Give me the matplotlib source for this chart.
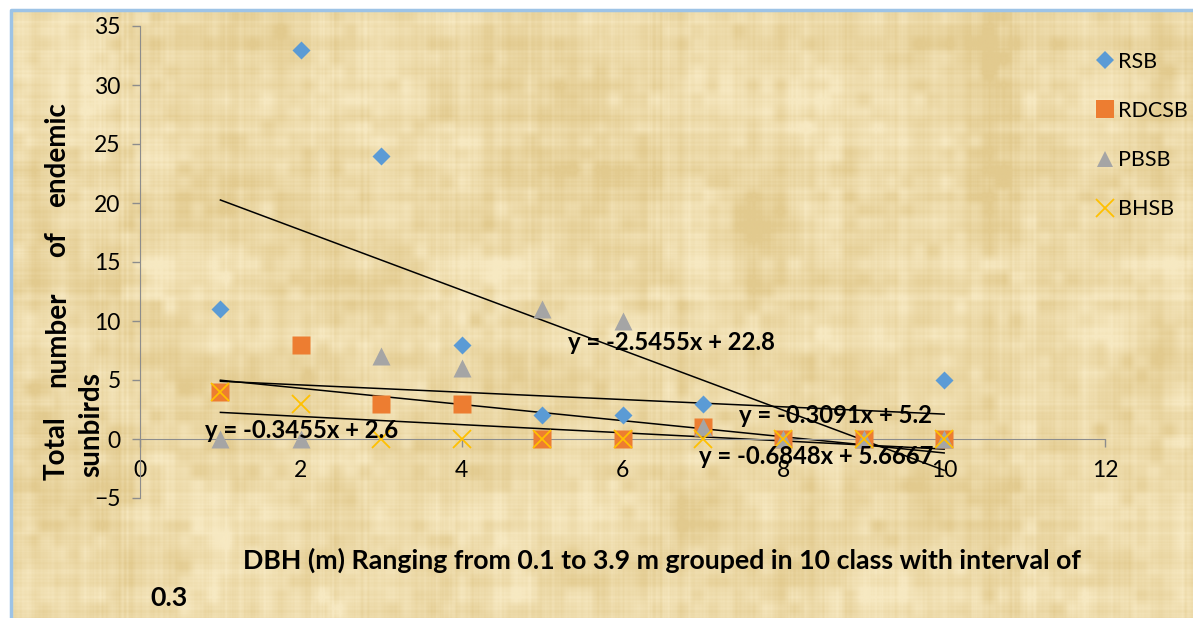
import numpy as np
import matplotlib
matplotlib.use('Agg')
import matplotlib.pyplot as plt
from matplotlib.lines import Line2D

plt.rcParams['font.family'] = ['Lato', 'DejaVu Sans']

# DBH classes and sunbird counts per species
dbh_class = [1, 2, 3, 4, 5, 6, 7, 8, 9, 10]
rsb = [11, 33, 24, 8, 2, 2, 3, 0, 0, 5]
rdcsb = [4, 8, 3, 3, 0, 0, 1, 0, 0, 0]
pbsb = [0, 0, 7, 6, 11, 10, 1, 0, 0, 0]
bhsb = [4, 3, 0, 0, 0, 0, 0, 0, 0, 0]

species = ['RSB', 'RDCSB', 'PBSB', 'BHSB']
colors = ['#5B9BD5', '#ED7D31', '#A5A5A5', '#FFC000']
markers = ['D', 's', '^', 'x']
msizes = [9.5, 13.5, 12.5, 13.5]

# where each trendline equation sits (data coords), same order as species
eq_pos = [(5.32, 8.2), (6.95, -1.5), (7.45, 2.0), (0.81, 0.75)]

W, H = 1193, 618
fig = plt.figure(figsize=(W / 100, H / 100), dpi=100)

# papyrus-like background: crossing fibres plus small patches
rng = np.random.default_rng(11)
def smooth1d(a, k):
    return np.convolve(a, np.ones(k) / k, mode='same')
col = smooth1d(rng.normal(size=W), 2)
row = smooth1d(rng.normal(size=H), 2)
col2 = smooth1d(rng.normal(size=W), 9)
row2 = smooth1d(rng.normal(size=H), 9)
blk = rng.normal(size=(H // 14 + 2, W // 14 + 2))
blot = np.kron(blk, np.ones((14, 14)))[:H, :W]
blot = np.apply_along_axis(smooth1d, 0, blot, 9)
blot = np.apply_along_axis(smooth1d, 1, blot, 9)
big = rng.normal(size=(H // 60 + 2, W // 60 + 2))
big = np.kron(big, np.ones((60, 60)))[:H, :W]
big = np.apply_along_axis(smooth1d, 0, big, 41)
big = np.apply_along_axis(smooth1d, 1, big, 41)
shade = (0.5 * col[None, :] + 0.5 * row[:, None] + 1.2 * col2[None, :] + 1.2 * row2[:, None]
         + 0.8 * blot + 1.0 * big)
shade = (shade - shade.mean()) / shade.std()
t = np.clip(0.5 + 0.2 * shade, 0, 1)[..., None]
dark = np.array([226, 202, 142]) / 255
light = np.array([247, 233, 194]) / 255
tex = dark + (light - dark) * t

bg = fig.add_axes([0, 0, 1, 1], zorder=0)
bg.set_xlim(0, W)
bg.set_ylim(H, 0)
bg.axis('off')
bg.imshow(tex, extent=(11, W, H, 10), aspect='auto', interpolation='bilinear')
bg.plot([11, 11, W], [H, 10, 10], color='#9DC3E6', lw=2.5, solid_capstyle='butt')

ax = fig.add_axes([140 / W, 1 - 498 / H, (1105 - 140) / W, (498 - 26) / H], zorder=1)
ax.set_facecolor('none')

x = np.array(dbh_class)
all_series = [rsb, rdcsb, pbsb, bhsb]
for name, ys, c, m, ms in zip(species, all_series, colors, markers, msizes):
    if m == 'x':
        ax.plot(x, ys, linestyle='none', marker=m, ms=ms, color=c, mew=1.3, label=name, zorder=3)
    else:
        ax.plot(x, ys, linestyle='none', marker=m, ms=ms, color=c, mec='none', label=name, zorder=3)

# linear trendlines with equations
def fmt(v):
    return f'{v:.4f}'.rstrip('0').rstrip('.')

for ys, (ex, ey) in zip(all_series, eq_pos):
    ys = np.array(ys, dtype=float)
    slope, icpt = np.polyfit(x, ys, 1)
    ax.plot([x[0], x[-1]], [slope * x[0] + icpt, slope * x[-1] + icpt],
            color='black', lw=1.1, zorder=2)
    ax.text(ex, ey, f'y = {fmt(slope)}x + {fmt(icpt)}', fontsize=17.2,
            fontweight='bold', ha='left', va='center', zorder=4)

ax.set_xlim(0, 12)
ax.set_ylim(-5, 35)
ax.set_xticks(range(0, 13, 2))
ax.set_yticks(range(-5, 36, 5))
for s in ['top', 'right']:
    ax.spines[s].set_visible(False)
ax.spines['bottom'].set_position(('data', 0))
ax.spines['left'].set_color('#8C8C8C')
ax.spines['bottom'].set_color('#8C8C8C')
ax.tick_params(axis='both', colors='#8C8C8C', labelcolor='black', labelsize=16.5,
               length=6, width=1, direction='out')
ax.tick_params(axis='x', pad=9)
ax.tick_params(axis='y', pad=8)

# legend on the right
handles = [Line2D([], [], linestyle='none', marker=m, ms=ms * 0.95, color=c,
                  mec=(c if m == 'x' else 'none'), mew=1.3)
           for m, ms, c in zip(markers, msizes, colors)]
fig.legend(handles, species, loc='upper left', bbox_to_anchor=(1086 / W, 1 - 43 / H),
           frameon=False, fontsize=15.5, labelspacing=1.36, handletextpad=0.1,
           handlelength=1.0, borderaxespad=0)

# y-axis title, justified over two lines
for word, yb in [('Total', 480), ('number', 387), ('of', 257), ('endemic', 207)]:
    fig.text(57 / W, 1 - yb / H, word, rotation=90, ha='center', va='bottom',
             fontsize=20, fontweight='bold')
fig.text(91 / W, 1 - 477 / H, 'sunbirds', rotation=90, ha='center', va='bottom',
         fontsize=20, fontweight='bold')

# x-axis title
fig.text(243 / W, 1 - 560 / H,
         'DBH (m) Ranging from 0.1 to 3.9 m grouped in 10 class with interval of',
         ha='left', va='center', fontsize=19.3, fontweight='bold')
fig.text(150 / W, 1 - 598 / H, '0.3', ha='left', va='center', fontsize=19.3, fontweight='bold')

fig.savefig('out.png', dpi=100)
